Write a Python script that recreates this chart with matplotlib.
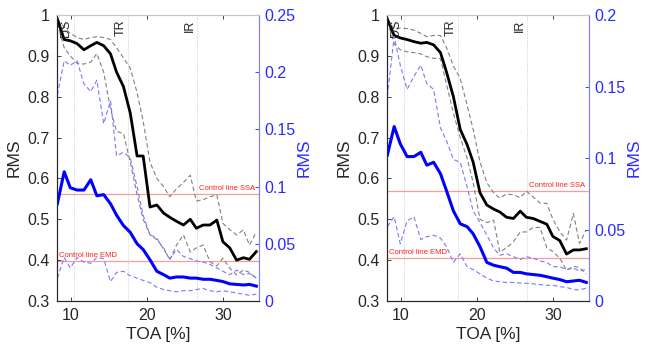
import numpy as np
import matplotlib
matplotlib.use("Agg")
import matplotlib.pyplot as plt

plt.rcParams['font.family'] = ['Liberation Sans', 'DejaVu Sans']

# TOA axis (shared by both panels)
toa = [8.2, 9.1, 9.9, 10.8, 11.7, 12.6, 13.4, 14.3, 15.2, 16.0, 16.9, 17.8, 18.7, 19.5, 20.4,
       21.3, 22.2, 23.0, 23.9, 24.8, 25.7, 26.5, 27.4, 28.3, 29.2, 30.0, 30.9, 31.8, 32.7, 33.5, 34.4]

# left panel - SSA (black, left axis)
ssa_mean_a = [0.99, 0.94, 0.937, 0.93, 0.915, 0.925, 0.933, 0.925, 0.905, 0.86, 0.825, 0.76, 0.655, 0.655, 0.53,
              0.535, 0.515, 0.505, 0.495, 0.486, 0.5, 0.478, 0.486, 0.486, 0.498, 0.445, 0.43, 0.40, 0.406, 0.402, 0.421]
ssa_hi_a = [0.99, 0.97, 0.955, 0.945, 0.94, 0.945, 0.947, 0.945, 0.94, 0.92, 0.895, 0.87, 0.81, 0.74, 0.64,
            0.60, 0.58, 0.555, 0.575, 0.59, 0.608, 0.545, 0.548, 0.555, 0.56, 0.49, 0.475, 0.462, 0.474, 0.437, 0.469]
ssa_lo_a = [0.98, 0.92, 0.90, 0.882, 0.88, 0.885, 0.906, 0.86, 0.77, 0.715, 0.71, 0.64, 0.56, 0.50, 0.462,
            0.45, 0.43, 0.40, 0.437, 0.462, 0.42, 0.43, 0.437, 0.396, 0.386, 0.405, 0.38, 0.364, 0.376, 0.37, 0.356]
# left panel - EMD (blue, right axis)
emd_mean_a = [0.085, 0.113, 0.099, 0.097, 0.097, 0.106, 0.092, 0.093, 0.085, 0.075, 0.066, 0.060, 0.050, 0.045, 0.036,
              0.026, 0.023, 0.020, 0.021, 0.021, 0.020, 0.020, 0.019, 0.019, 0.018, 0.017, 0.015, 0.0145, 0.014, 0.0145, 0.013]
emd_hi_a = [0.18, 0.21, 0.206, 0.21, 0.19, 0.183, 0.193, 0.155, 0.175, 0.127, 0.13, 0.125, 0.10, 0.075, 0.058,
            0.055, 0.045, 0.037, 0.045, 0.039, 0.037, 0.035, 0.034, 0.032, 0.029, 0.026, 0.023, 0.027, 0.023, 0.024, 0.020]
emd_lo_a = [0.02, 0.038, 0.029, 0.038, 0.034, 0.033, 0.038, 0.037, 0.017, 0.025, 0.026, 0.022, 0.020, 0.018, 0.016,
            0.012, 0.010, 0.009, 0.008, 0.009, 0.009, 0.010, 0.011, 0.009, 0.008, 0.009, 0.008, 0.007, 0.006, 0.005, 0.006]

# right panel - SSA
ssa_mean_b = [0.99, 0.95, 0.944, 0.94, 0.935, 0.931, 0.933, 0.927, 0.908, 0.86, 0.80, 0.72, 0.683, 0.64, 0.565,
              0.535, 0.525, 0.518, 0.505, 0.502, 0.52, 0.505, 0.502, 0.495, 0.488, 0.458, 0.448, 0.415, 0.425, 0.425, 0.428]
ssa_hi_b = [0.99, 0.965, 0.968, 0.967, 0.963, 0.955, 0.947, 0.95, 0.95, 0.92, 0.875, 0.845, 0.78, 0.72, 0.64,
            0.59, 0.565, 0.552, 0.562, 0.56, 0.553, 0.569, 0.555, 0.54, 0.539, 0.50, 0.47, 0.449, 0.514, 0.441, 0.474]
ssa_lo_b = [0.985, 0.93, 0.915, 0.91, 0.908, 0.905, 0.898, 0.894, 0.893, 0.83, 0.76, 0.70, 0.65, 0.59, 0.50,
            0.492, 0.498, 0.42, 0.43, 0.445, 0.469, 0.469, 0.48, 0.48, 0.43, 0.421, 0.405, 0.375, 0.385, 0.382, 0.366]
# right panel - EMD
emd_mean_b = [0.102, 0.122, 0.11, 0.101, 0.101, 0.104, 0.095, 0.097, 0.089, 0.077, 0.063, 0.054, 0.052, 0.047, 0.038,
              0.027, 0.025, 0.024, 0.023, 0.020, 0.020, 0.019, 0.0185, 0.018, 0.017, 0.016, 0.015, 0.0135, 0.014, 0.0145, 0.013]
emd_hi_b = [0.143, 0.185, 0.165, 0.148, 0.157, 0.165, 0.152, 0.148, 0.121, 0.112, 0.099, 0.097, 0.08, 0.063, 0.055,
            0.046, 0.037, 0.032, 0.033, 0.031, 0.029, 0.031, 0.030, 0.028, 0.027, 0.024, 0.024, 0.022, 0.023, 0.021, 0.022]
emd_lo_b = [0.052, 0.059, 0.040, 0.056, 0.059, 0.043, 0.045, 0.046, 0.044, 0.038, 0.027, 0.033, 0.024, 0.022, 0.019,
            0.016, 0.014, 0.0135, 0.013, 0.013, 0.0125, 0.0124, 0.012, 0.0115, 0.011, 0.011, 0.010, 0.0095, 0.008, 0.0078, 0.009]

# control lines (left axis units) and region markers
ctrl_a = {'SSA': 0.561, 'EMD': 0.398}
ctrl_b = {'SSA': 0.570, 'EMD': 0.405}
regions = [('DS', 10.4), ('TR', 17.5), ('IR', 26.6)]

BLUE = '#0000ff'
BLUE_TXT = '#2b2bff'
DARK = '#262626'


def draw_panel(pos, ssa, emd, ctrl, rmax, rticks, rlabels):
    ax = fig.add_axes(pos)
    axr = ax.twinx()

    for name, xv in regions:
        ax.axvline(xv, color='#c0c0c0', lw=0.6, ls=':', zorder=0)
        ax.text(xv - 1.0, 0.985, name, rotation=90, ha='center', va='top',
                fontsize=9, color=DARK, transform=ax.get_xaxis_transform())

    ax.axhline(ctrl['SSA'], color='#ff9a9a', lw=0.9, zorder=1)
    ax.axhline(ctrl['EMD'], color='#ff9a9a', lw=0.9, zorder=1)
    ax.text(34.3, ctrl['SSA'] + 0.005, 'Control line SSA', color='#ff2020',
            fontsize=5.5, ha='right', va='bottom')
    ax.text(8.4, ctrl['EMD'] + 0.005, 'Control line EMD', color='#ff2020',
            fontsize=5.5, ha='left', va='bottom')

    ax.plot(toa, ssa[1], '--', color='#808080', lw=0.8, dashes=(4, 2.5))
    ax.plot(toa, ssa[2], '--', color='#808080', lw=0.8, dashes=(4, 2.5))
    ax.plot(toa, ssa[0], '-', color='black', lw=2.0)

    axr.plot(toa, emd[1], '--', color='#7878ff', lw=0.8, dashes=(4, 2.5))
    axr.plot(toa, emd[2], '--', color='#7878ff', lw=0.8, dashes=(4, 2.5))
    axr.plot(toa, emd[0], '-', color=BLUE, lw=2.2)

    ax.set_xlim(8.15, 34.75)
    ax.set_ylim(0.3, 1.0)
    axr.set_ylim(0, rmax)

    ax.set_xticks([10, 20, 30])
    ax.set_yticks([0.3, 0.4, 0.5, 0.6, 0.7, 0.8, 0.9, 1.0])
    ax.set_yticklabels(['0.3', '0.4', '0.5', '0.6', '0.7', '0.8', '0.9', '1'])
    axr.set_yticks(rticks)
    axr.set_yticklabels(rlabels)

    ax.tick_params(axis='both', direction='in', length=3, width=0.6,
                   labelsize=11.5, colors=DARK, top=True, pad=5)
    ax.tick_params(axis='y', right=False)
    axr.tick_params(axis='y', direction='in', length=3, width=0.6,
                    labelsize=11.5, colors=BLUE_TXT, pad=4)

    ax.set_xlabel('TOA [%]', fontsize=12.5, color=DARK, labelpad=3)
    ax.set_ylabel('RMS', fontsize=12.5, color=DARK, labelpad=4)
    axr.set_ylabel('RMS', fontsize=12.5, color=BLUE_TXT, labelpad=1)

    for a in (ax, axr):
        a.spines['top'].set_color('#c8c8c8')
        a.spines['left'].set_color(DARK)
        a.spines['bottom'].set_color(DARK)
        a.spines['right'].set_color('#8080ff')
        for s in a.spines.values():
            s.set_linewidth(0.8)
    return ax, axr


fig = plt.figure(figsize=(6.46, 3.5), dpi=100)

draw_panel([0.0882, 0.14, 0.3127, 0.817],
           (ssa_mean_a, ssa_hi_a, ssa_lo_a), (emd_mean_a, emd_hi_a, emd_lo_a),
           ctrl_a, 0.25, [0, 0.05, 0.1, 0.15, 0.2, 0.25],
           ['0', '0.05', '0.1', '0.15', '0.2', '0.25'])
draw_panel([0.599, 0.14, 0.3127, 0.817],
           (ssa_mean_b, ssa_hi_b, ssa_lo_b), (emd_mean_b, emd_hi_b, emd_lo_b),
           ctrl_b, 0.2, [0, 0.05, 0.1, 0.15, 0.2],
           ['0', '0.05', '0.1', '0.15', '0.2'])

fig.savefig('out.png', dpi=100)
